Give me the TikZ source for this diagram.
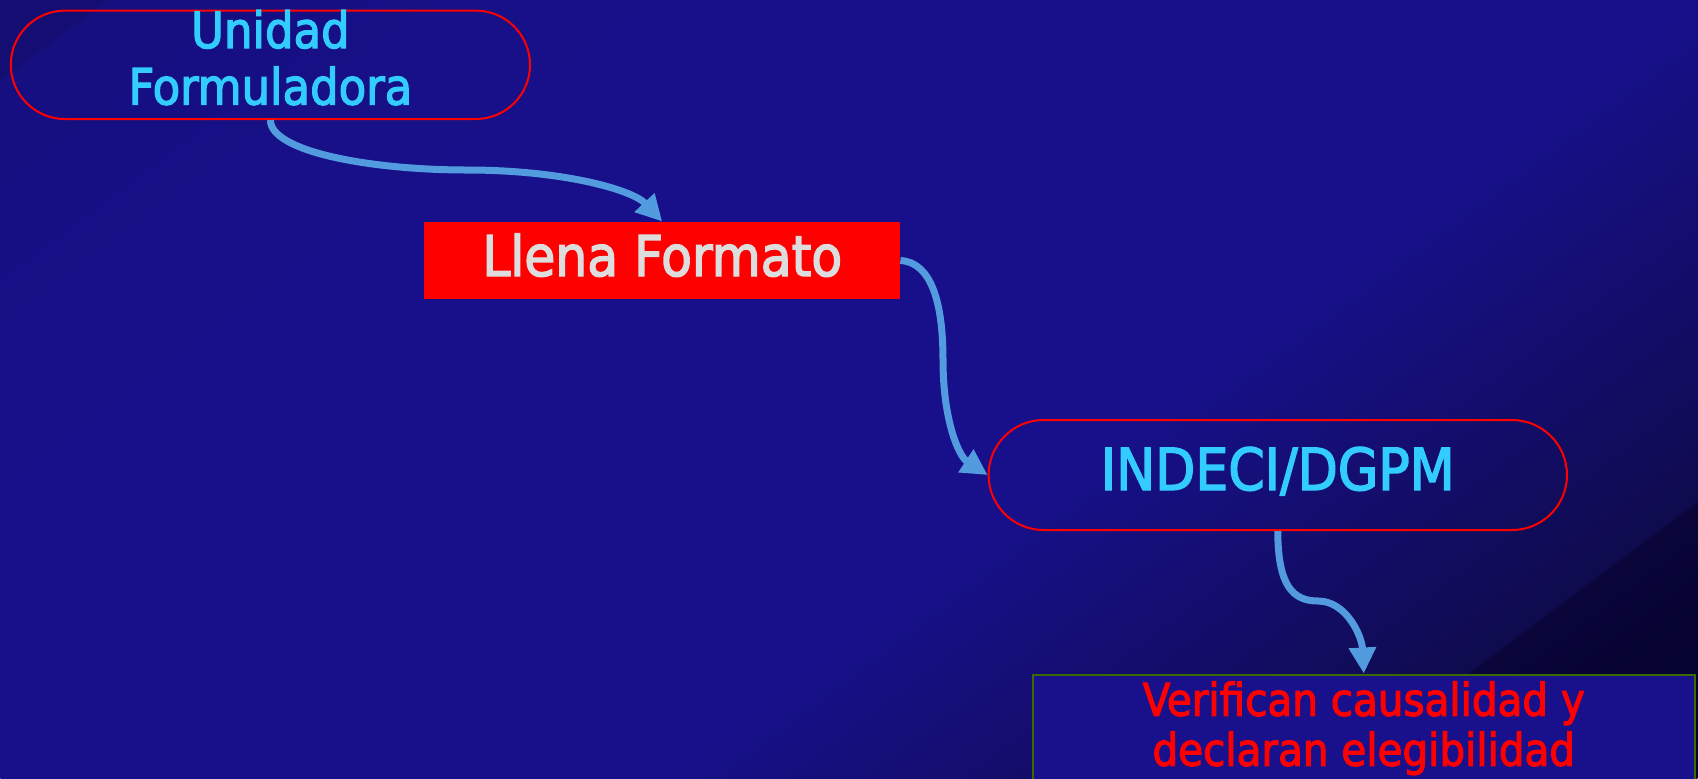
\documentclass[tikz,border=0pt]{standalone}
\usepackage{fontspec}
\setmainfont{DejaVu Sans Condensed}[UprightFeatures={FakeBold=2.5}]
\usetikzlibrary{shapes.misc,arrows.meta}

\definecolor{bgcorner}{HTML}{140E72}
\definecolor{bgedge}{HTML}{160F80}
\definecolor{bgmain}{HTML}{17108A}
\definecolor{bgfar}{HTML}{0F0B4E}
\definecolor{bgdeep}{HTML}{09053A}
\definecolor{bgend}{HTML}{020128}
\definecolor{boxred}{HTML}{FF0000}
\definecolor{flowblue}{HTML}{529BDF}
\definecolor{titlecyan}{HTML}{33CCFF}
\definecolor{paleword}{HTML}{DDDDDD}
\definecolor{boxgreen}{HTML}{3B6B00}
\definecolor{boxfill}{HTML}{19118B}

\pgfdeclarehorizontalshading{slidebg}{100bp}{color(0bp)=(bgcorner); color(26.9bp)=(bgcorner); color(27bp)=(bgedge); color(37.5bp)=(bgmain); color(56bp)=(bgmain); color(68.2bp)=(bgfar); color(68.3bp)=(bgdeep); color(75bp)=(bgend); color(100bp)=(bgend)}

\begin{document}
\begin{tikzpicture}[x=0.5pt,y=-0.5pt,
  roundbox/.style={rounded rectangle, draw=boxred, line width=1pt, inner sep=0pt},
  flow/.style={draw=flowblue, line width=3.5pt, -{Triangle[length=13pt,width=13pt]}},
  cyanword/.style={text=titlecyan, inner sep=0pt}]
\useasboundingbox (0,0) rectangle (1698,778);
\clip (0,0) rectangle (1698,778);
\begin{scope}[transform canvas={rotate=-53.13}]
\shade[shading=slidebg] (0pt,-233.4pt) rectangle (820.6pt,679.2pt);
\end{scope}

\node[roundbox, minimum width=259.6pt, minimum height=54.2pt] (uf) at (270.4,64.8) {};
\node[cyanword, font=\fontsize{25}{28.3}\selectfont, align=center] (uftext) at (270.4,57.6) {Unidad\\Formuladora};
\node[fill=boxred, text=paleword, inner sep=0pt, minimum width=237.8pt, minimum height=38.5pt,
  text height=21pt, text depth=5.4pt, font=\fontsize{28}{32}\selectfont] (lf) at (662.2,260.4) {Llena Formato};
\node[roundbox, cyanword, minimum width=289.2pt, minimum height=55pt,
  text height=21.5pt, text depth=6.5pt, font=\fontsize{29}{33}\selectfont] (ix) at (1277.8,475) {INDECI/DGPM};
\node[draw=boxgreen, fill=boxfill, line width=1pt, text=boxred, inner sep=0pt, align=center,
  minimum width=330.8pt, minimum height=53.8pt, font=\fontsize{22.5}{25}\selectfont] (vc) at (1363.8,728.3) {Verifican causalidad y\\declaran elegibilidad};

\coordinate (bendA) at (467,170);
\coordinate (bendB) at (943,360);
\coordinate (bendC) at (1318,601);
\draw[flow] (uf.south) .. controls +(0,32) and +(-95,0) .. (bendA) .. controls +(95,0) and +(-30,-32) .. (lf.north);
\draw[flow] (lf.east) .. controls +(30,2) and +(0,-60) .. (bendB) .. controls +(0,60) and +(-29,-19) .. (ix.west);
\draw[flow] (ix.south) .. controls +(0,55) and +(-25,0) .. (bendC) .. controls +(28,0) and +(-2,-38) .. (vc.north);
\end{tikzpicture}
\end{document}
